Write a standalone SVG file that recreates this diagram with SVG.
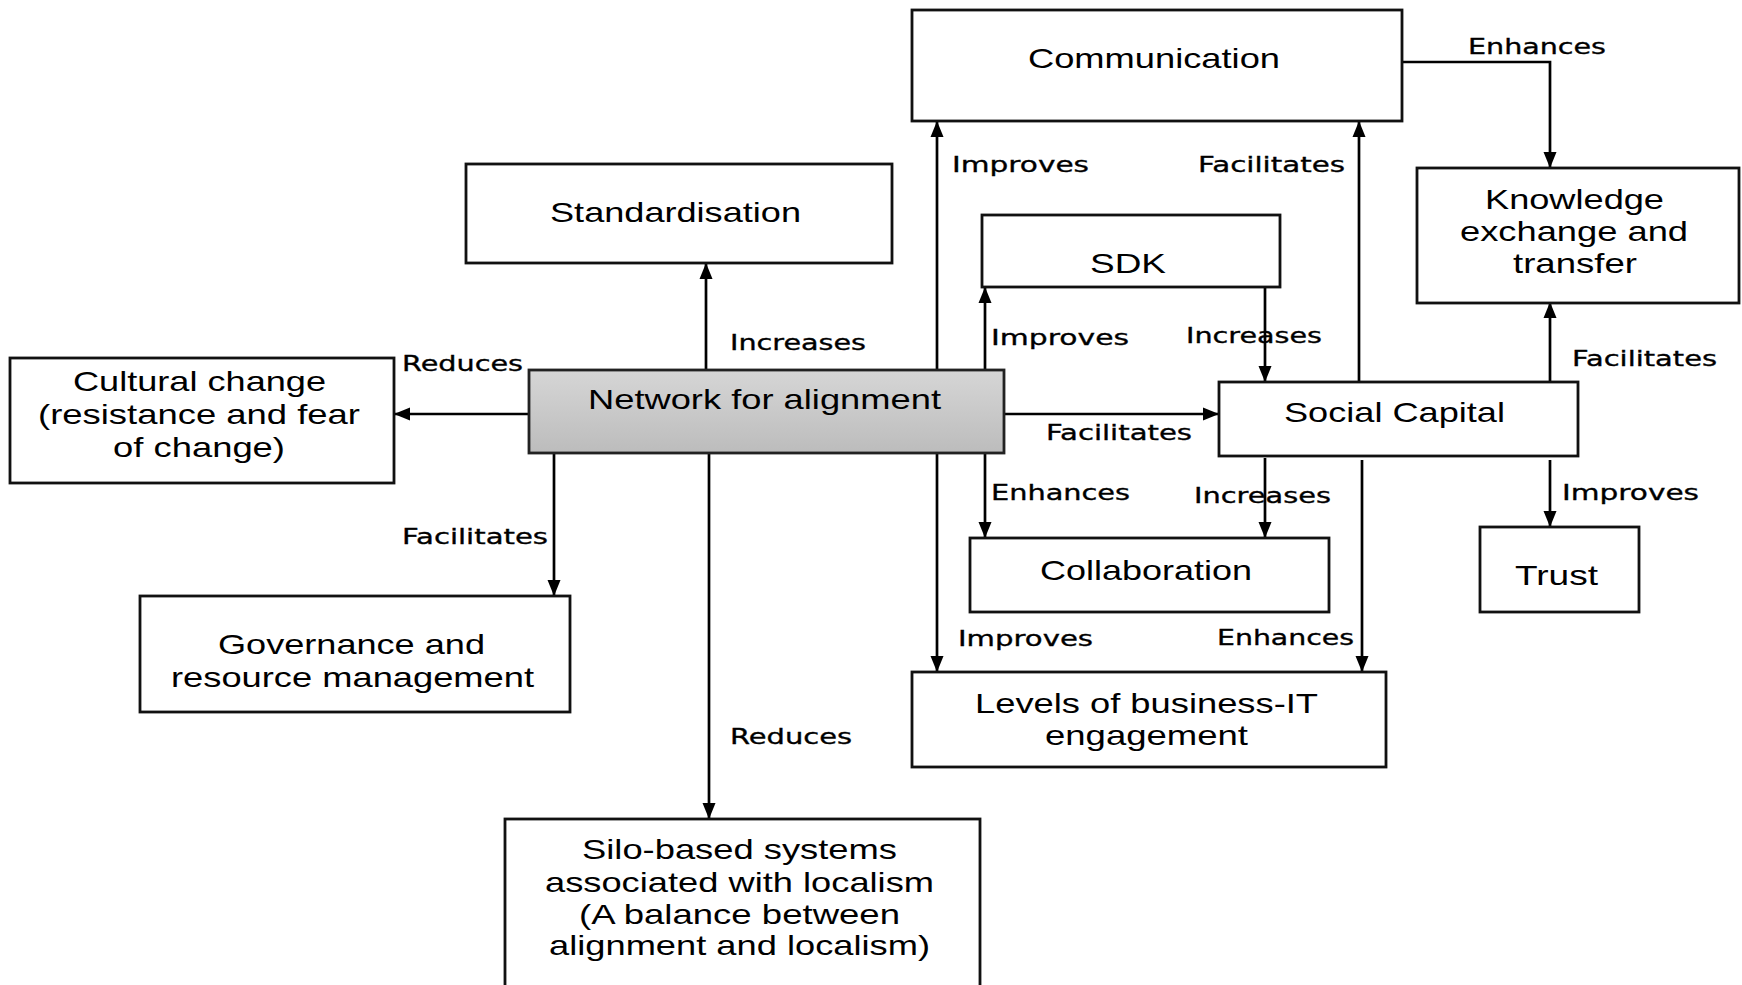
<svg xmlns="http://www.w3.org/2000/svg" width="1742" height="985" viewBox="0 0 1742 985">
  <defs>
    <marker id="arrow" markerUnits="userSpaceOnUse" markerWidth="16" markerHeight="14" viewBox="0 0 16 14" refX="15" refY="7" orient="auto">
      <path d="M0,0.5 L16,7 L0,13.5 z" fill="#000"/>
    </marker>
    <linearGradient id="netFill" x1="0" y1="0" x2="0" y2="1">
      <stop offset="0" stop-color="#d6d6d6"/>
      <stop offset="1" stop-color="#bcbcbc"/>
    </linearGradient>
  </defs>
  <style>
    .box { fill: #fff; stroke: #111; stroke-width: 2.8; }
    .node-text { font-family: "Liberation Sans", Arial, sans-serif; font-size: 28px; fill: #000; }
    .edge { fill: none; stroke: #000; stroke-width: 2.7; marker-end: url(#arrow); }
    .label { font-family: "DejaVu Sans", Verdana, sans-serif; font-size: 22px; fill: #000; stroke: #000; stroke-width: 0.35; }
  </style>
  <rect width="1742" height="985" fill="#fff"/>

  <!-- connectors -->
  <g id="connectors">
    <path class="edge" d="M529,414 H395"/>
    <path class="edge" d="M706,370 V264"/>
    <path class="edge" d="M937,370 V122"/>
    <path class="edge" d="M985,370 V288"/>
    <path class="edge" d="M1004,414 H1218"/>
    <path class="edge" d="M554,454 V595"/>
    <path class="edge" d="M709,454 V818"/>
    <path class="edge" d="M937,454 V671"/>
    <path class="edge" d="M985,454 V537"/>
    <path class="edge" d="M1265,288 V381"/>
    <path class="edge" d="M1359,382 V122"/>
    <path class="edge" d="M1402,62 H1550 V167"/>
    <path class="edge" d="M1550,382 V303"/>
    <path class="edge" d="M1265,458 V537"/>
    <path class="edge" d="M1362,460 V671"/>
    <path class="edge" d="M1550,460 V526"/>

    <text class="label" x="1468" y="54" textLength="138" lengthAdjust="spacingAndGlyphs">Enhances</text>
    <text class="label" x="952" y="172" textLength="137" lengthAdjust="spacingAndGlyphs">Improves</text>
    <text class="label" x="1198" y="172" textLength="147" lengthAdjust="spacingAndGlyphs">Facilitates</text>
    <text class="label" x="730" y="350" textLength="136" lengthAdjust="spacingAndGlyphs">Increases</text>
    <text class="label" x="991" y="345" textLength="138" lengthAdjust="spacingAndGlyphs">Improves</text>
    <text class="label" x="1186" y="343" textLength="136" lengthAdjust="spacingAndGlyphs">Increases</text>
    <text class="label" x="402" y="371" textLength="121" lengthAdjust="spacingAndGlyphs">Reduces</text>
    <text class="label" x="1572" y="366" textLength="145" lengthAdjust="spacingAndGlyphs">Facilitates</text>
    <text class="label" x="1046" y="440" textLength="146" lengthAdjust="spacingAndGlyphs">Facilitates</text>
    <text class="label" x="991" y="500" textLength="139" lengthAdjust="spacingAndGlyphs">Enhances</text>
    <text class="label" x="1194" y="503" textLength="137" lengthAdjust="spacingAndGlyphs">Increases</text>
    <text class="label" x="1562" y="500" textLength="137" lengthAdjust="spacingAndGlyphs">Improves</text>
    <text class="label" x="402" y="544" textLength="146" lengthAdjust="spacingAndGlyphs">Facilitates</text>
    <text class="label" x="958" y="646" textLength="135" lengthAdjust="spacingAndGlyphs">Improves</text>
    <text class="label" x="1217" y="645" textLength="137" lengthAdjust="spacingAndGlyphs">Enhances</text>
    <text class="label" x="730" y="744" textLength="122" lengthAdjust="spacingAndGlyphs">Reduces</text>
  </g>

  <!-- nodes -->
  <g id="communication">
    <rect class="box" x="912" y="10" width="490" height="111"/>
    <text class="node-text" x="1028" y="68" textLength="252" lengthAdjust="spacingAndGlyphs">Communication</text>
  </g>
  <g id="standardisation">
    <rect class="box" x="466" y="164" width="426" height="99"/>
    <text class="node-text" x="550" y="222" textLength="251" lengthAdjust="spacingAndGlyphs">Standardisation</text>
  </g>
  <g id="knowledge">
    <rect class="box" x="1417" y="168" width="322" height="135"/>
    <text class="node-text" x="1485" y="209" textLength="179" lengthAdjust="spacingAndGlyphs">Knowledge</text>
    <text class="node-text" x="1460" y="241" textLength="228" lengthAdjust="spacingAndGlyphs">exchange and</text>
    <text class="node-text" x="1513" y="273" textLength="124" lengthAdjust="spacingAndGlyphs">transfer</text>
  </g>
  <g id="sdk">
    <rect class="box" x="982" y="215" width="298" height="72"/>
    <text class="node-text" x="1090" y="273" textLength="76" lengthAdjust="spacingAndGlyphs">SDK</text>
  </g>
  <g id="cultural-change">
    <rect class="box" x="10" y="358" width="384" height="125"/>
    <text class="node-text" x="73" y="391" textLength="253" lengthAdjust="spacingAndGlyphs">Cultural change</text>
    <text class="node-text" x="38" y="424" textLength="322" lengthAdjust="spacingAndGlyphs">(resistance and fear</text>
    <text class="node-text" x="113" y="457" textLength="172" lengthAdjust="spacingAndGlyphs">of change)</text>
  </g>
  <g id="network">
    <rect x="529" y="370" width="475" height="83" fill="url(#netFill)" stroke="#222" stroke-width="2.8"/>
    <text class="node-text" x="588" y="409" textLength="353" lengthAdjust="spacingAndGlyphs">Network for alignment</text>
  </g>
  <g id="social-capital">
    <rect class="box" x="1219" y="382" width="359" height="74"/>
    <text class="node-text" x="1284" y="422" textLength="221" lengthAdjust="spacingAndGlyphs">Social Capital</text>
  </g>
  <g id="collaboration">
    <rect class="box" x="970" y="538" width="359" height="74"/>
    <text class="node-text" x="1040" y="580" textLength="212" lengthAdjust="spacingAndGlyphs">Collaboration</text>
  </g>
  <g id="trust">
    <rect class="box" x="1480" y="527" width="159" height="85"/>
    <text class="node-text" x="1515" y="585" textLength="83" lengthAdjust="spacingAndGlyphs">Trust</text>
  </g>
  <g id="governance">
    <rect class="box" x="140" y="596" width="430" height="116"/>
    <text class="node-text" x="218" y="654" textLength="267" lengthAdjust="spacingAndGlyphs">Governance and</text>
    <text class="node-text" x="171" y="687" textLength="363" lengthAdjust="spacingAndGlyphs">resource management</text>
  </g>
  <g id="levels">
    <rect class="box" x="912" y="672" width="474" height="95"/>
    <text class="node-text" x="975" y="713" textLength="343" lengthAdjust="spacingAndGlyphs">Levels of business-IT</text>
    <text class="node-text" x="1045" y="745" textLength="203" lengthAdjust="spacingAndGlyphs">engagement</text>
  </g>
  <g id="silo">
    <rect class="box" x="505" y="819" width="475" height="180"/>
    <text class="node-text" x="582" y="859" textLength="315" lengthAdjust="spacingAndGlyphs">Silo-based systems</text>
    <text class="node-text" x="545" y="892" textLength="389" lengthAdjust="spacingAndGlyphs">associated with localism</text>
    <text class="node-text" x="579" y="924" textLength="321" lengthAdjust="spacingAndGlyphs">(A balance between</text>
    <text class="node-text" x="549" y="955" textLength="381" lengthAdjust="spacingAndGlyphs">alignment and localism)</text>
  </g>
</svg>
